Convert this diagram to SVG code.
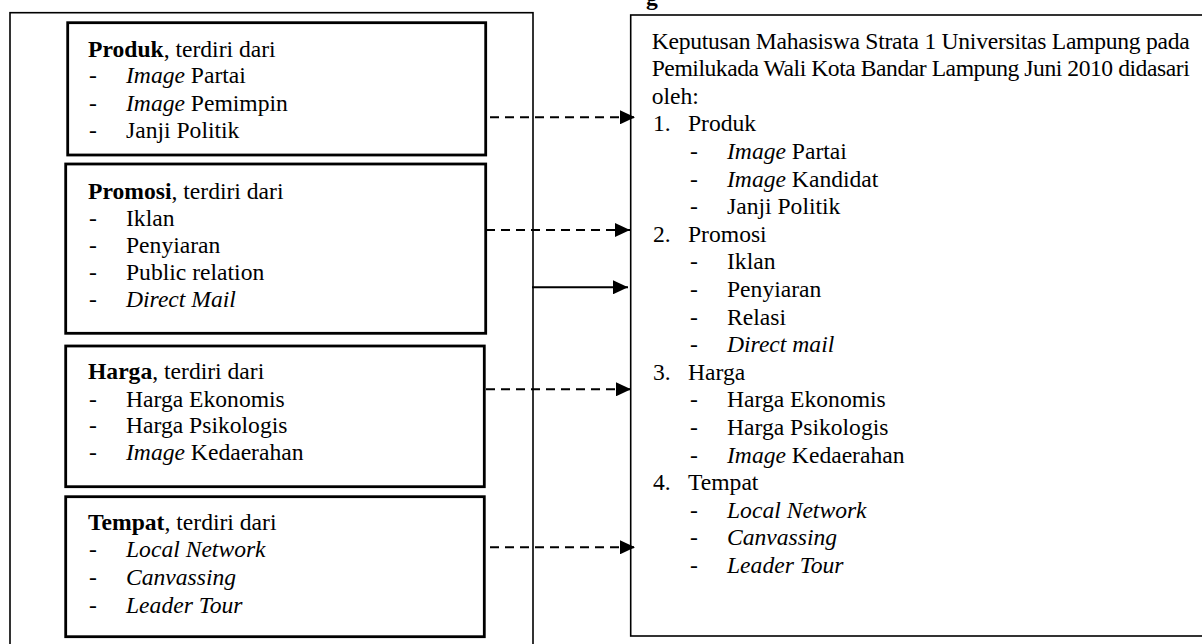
<svg xmlns="http://www.w3.org/2000/svg" width="1202" height="644" viewBox="0 0 1202 644">
  <style>
    text { font-family: "Liberation Serif", "Times New Roman", serif; font-size: 23.6px; fill: #000; }
    .b { font-weight: bold; }
    .i { font-style: italic; }
    .outer { fill: none; stroke: #000; stroke-width: 1.6; }
    .inner { fill: #fff; stroke: #000; stroke-width: 2.8; }
    .conn { fill: none; stroke: #000; stroke-width: 2; }
    .dash { stroke-dasharray: 9 6; }
  </style>
  <defs>
    <marker id="ah" markerUnits="userSpaceOnUse" markerWidth="15" markerHeight="14" refX="15" refY="7" orient="auto">
      <path d="M0,0 L15,7 L0,14 z" fill="#000"/>
    </marker>
  </defs>
  <rect width="1202" height="644" fill="#fff"/>

  <text id="title-fragment" x="646" y="5" class="b">g</text>

  <g id="left-frame">
    <rect class="outer" x="10" y="12.7" width="523" height="650"/>
  </g>

  <g id="node-produk">
    <rect class="inner" x="67.7" y="22.7" width="418" height="132.3"/>
    <text x="88" y="56.7"><tspan class="b">Produk</tspan>, terdiri dari</text>
    <text x="89" y="83.3">-</text><text x="126" y="83.3"><tspan class="i">Image</tspan> Partai</text>
    <text x="89" y="110.5">-</text><text x="126" y="110.5"><tspan class="i">Image</tspan> Pemimpin</text>
    <text x="89" y="138">-</text><text x="126" y="138">Janji Politik</text>
  </g>

  <g id="node-promosi">
    <rect class="inner" x="65.7" y="164" width="420" height="169.3"/>
    <text x="88" y="199"><tspan class="b">Promosi</tspan>, terdiri dari</text>
    <text x="89" y="226">-</text><text x="126" y="226">Iklan</text>
    <text x="89" y="253">-</text><text x="126" y="253">Penyiaran</text>
    <text x="89" y="280">-</text><text x="126" y="280">Public relation</text>
    <text x="89" y="307.3">-</text><text x="126" y="307.3" class="i">Direct Mail</text>
  </g>

  <g id="node-harga">
    <rect class="inner" x="65.7" y="346" width="418.6" height="140.7"/>
    <text x="88" y="379.3"><tspan class="b">Harga</tspan>, terdiri dari</text>
    <text x="89" y="406.7">-</text><text x="126" y="406.7">Harga Ekonomis</text>
    <text x="89" y="433.3">-</text><text x="126" y="433.3">Harga Psikologis</text>
    <text x="89" y="460">-</text><text x="126" y="460"><tspan class="i">Image</tspan> Kedaerahan</text>
  </g>

  <g id="node-tempat">
    <rect class="inner" x="65.7" y="496.7" width="418.6" height="140"/>
    <text x="88" y="530"><tspan class="b">Tempat</tspan>, terdiri dari</text>
    <text x="89" y="557.3">-</text><text x="126" y="557.3" class="i">Local Network</text>
    <text x="89" y="585">-</text><text x="126" y="585" class="i">Canvassing</text>
    <text x="89" y="612.7">-</text><text x="126" y="612.7" class="i">Leader Tour</text>
  </g>

  <g id="node-keputusan">
    <rect class="outer" x="630.7" y="15" width="580" height="621"/>
    <text x="651.7" y="48.5" textLength="538" lengthAdjust="spacing">Keputusan Mahasiswa Strata 1 Universitas Lampung pada</text>
    <text x="651.7" y="76.1" textLength="538" lengthAdjust="spacing">Pemilukada Wali Kota Bandar Lampung Juni 2010 didasari</text>
    <text x="651.7" y="103.7">oleh:</text>
    <text x="653" y="131.3">1.</text><text x="688" y="131.3">Produk</text>
    <text x="690" y="158.9">-</text><text x="727" y="158.9"><tspan class="i">Image</tspan> Partai</text>
    <text x="690" y="186.5">-</text><text x="727" y="186.5"><tspan class="i">Image</tspan> Kandidat</text>
    <text x="690" y="214.1">-</text><text x="727" y="214.1">Janji Politik</text>
    <text x="653" y="241.7">2.</text><text x="688" y="241.7">Promosi</text>
    <text x="690" y="269.3">-</text><text x="727" y="269.3">Iklan</text>
    <text x="690" y="296.9">-</text><text x="727" y="296.9">Penyiaran</text>
    <text x="690" y="324.5">-</text><text x="727" y="324.5">Relasi</text>
    <text x="690" y="352.1">-</text><text x="727" y="352.1" class="i">Direct mail</text>
    <text x="653" y="379.7">3.</text><text x="688" y="379.7">Harga</text>
    <text x="690" y="407.3">-</text><text x="727" y="407.3">Harga Ekonomis</text>
    <text x="690" y="434.9">-</text><text x="727" y="434.9">Harga Psikologis</text>
    <text x="690" y="462.5">-</text><text x="727" y="462.5"><tspan class="i">Image</tspan> Kedaerahan</text>
    <text x="653" y="490.1">4.</text><text x="688" y="490.1">Tempat</text>
    <text x="690" y="517.7">-</text><text x="727" y="517.7" class="i">Local Network</text>
    <text x="690" y="545.3">-</text><text x="727" y="545.3" class="i">Canvassing</text>
    <text x="690" y="572.9">-</text><text x="727" y="572.9" class="i">Leader Tour</text>
  </g>

  <g id="connectors">
    <line class="conn dash" x1="490" y1="117.3" x2="635" y2="117.3" marker-end="url(#ah)"/>
    <line class="conn dash" x1="486" y1="230" x2="630" y2="230" marker-end="url(#ah)"/>
    <line class="conn" x1="532" y1="287.3" x2="628" y2="287.3" marker-end="url(#ah)"/>
    <line class="conn dash" x1="486" y1="389.3" x2="631" y2="389.3" marker-end="url(#ah)"/>
    <line class="conn dash" x1="490" y1="547.3" x2="635" y2="547.3" marker-end="url(#ah)"/>
  </g>
</svg>
